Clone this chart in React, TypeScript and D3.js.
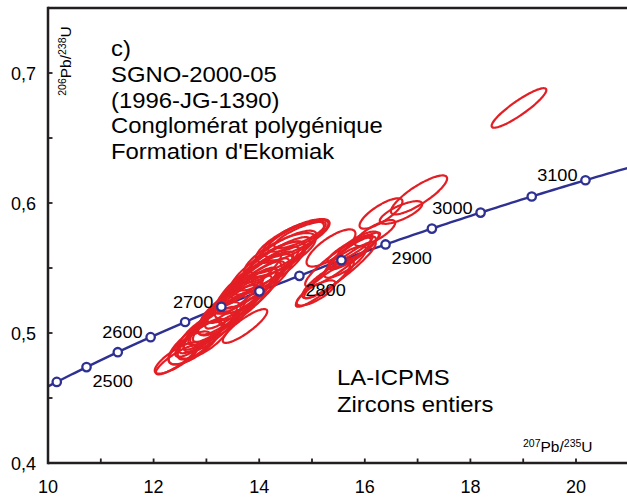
import React from 'react';
import * as d3 from 'd3';

// Concordia diagram, U-Pb zircon ages (LA-ICPMS)
const WIDTH = 627;
const HEIGHT = 500;

// Decay constants (per year)
const LAMBDA_238 = 1.55125e-10;
const LAMBDA_235 = 9.8485e-10;

// Concordia age markers (Ma) and labelled ages
const markerAges = [2450, 2500, 2550, 2600, 2650, 2700, 2750, 2800, 2850, 2900, 2950, 3000, 3050, 3100];
const labelAges = [2500, 2600, 2700, 2800, 2900, 3000, 3100];
const labelSides = ['below', 'above', 'above', 'below', 'below', 'above', 'above'];

// Axis ticks
const xTickLabels = [10, 12, 14, 16, 18, 20];
const yTickLabels = [0.4, 0.5, 0.6, 0.7];

// Analyses: 207Pb/235U, 206Pb/238U, errors and error correlation
const pb207u235 = [18.92, 17.027, 16.307, 16.686, 16.193, 15.36, 15.758, 15.72, 15.871, 15.208, 15.303, 15.076, 15.625, 15.814, 14.697, 14.735, 14.773, 14.583, 12.879, 13.03, 13.163, 13.295, 13.409, 13.542, 13.655, 13.75, 13.864, 13.977, 14.091, 14.205, 14.318, 14.451, 13.485, 13.826, 13.731, 12.424, 12.443, 13.598, 13.352, 13.92, 14.167, 13.106, 14.394, 12.879, 15.492, 15.53, 12.784, 12.973, 12.689, 13.788];
const pb206u238 = [0.6731, 0.6062, 0.5919, 0.5927, 0.5769, 0.5654, 0.5615, 0.5646, 0.5669, 0.5369, 0.5415, 0.5308, 0.5546, 0.5638, 0.5731, 0.5746, 0.5754, 0.57, 0.4962, 0.5023, 0.5077, 0.5115, 0.5162, 0.5215, 0.5269, 0.5315, 0.5362, 0.5408, 0.5469, 0.5515, 0.5562, 0.5623, 0.5254, 0.5408, 0.5054, 0.4792, 0.4808, 0.5238, 0.5138, 0.5377, 0.55, 0.5046, 0.56, 0.4946, 0.5546, 0.5485, 0.4923, 0.4985, 0.4885, 0.5331];
const err207 = [0.518, 0.532, 0.406, 0.402, 0.383, 0.463, 0.451, 0.43, 0.394, 0.514, 0.489, 0.367, 0.398, 0.475, 0.636, 0.575, 0.487, 0.644, 0.468, 0.547, 0.591, 0.638, 0.664, 0.698, 0.678, 0.728, 0.698, 0.669, 0.661, 0.641, 0.65, 0.632, 0.589, 0.588, 0.421, 0.382, 0.421, 0.755, 0.658, 0.714, 0.714, 0.542, 0.679, 0.424, 0.621, 0.678, 0.503, 0.533, 0.403, 0.64];
const err206 = [0.0152, 0.015, 0.0117, 0.0087, 0.01, 0.0143, 0.0126, 0.0108, 0.0111, 0.0167, 0.0146, 0.0097, 0.0121, 0.0135, 0.0146, 0.0121, 0.0101, 0.016, 0.0145, 0.0179, 0.0205, 0.0208, 0.023, 0.0228, 0.0235, 0.0237, 0.0213, 0.0219, 0.0196, 0.0188, 0.0176, 0.0164, 0.0179, 0.0203, 0.013, 0.011, 0.0121, 0.0256, 0.0231, 0.023, 0.0205, 0.0192, 0.0169, 0.015, 0.0189, 0.0219, 0.0165, 0.0182, 0.0127, 0.0228];
const rhoErr = [0.904, 0.84, 0.788, 0.743, 0.79, 0.768, 0.864, 0.871, 0.768, 0.914, 0.862, 0.774, 0.797, 0.912, 0.771, 0.784, 0.812, 0.763, 0.856, 0.876, 0.901, 0.887, 0.903, 0.886, 0.907, 0.895, 0.897, 0.876, 0.881, 0.815, 0.86, 0.808, 0.907, 0.921, 0.863, 0.867, 0.802, 0.85, 0.836, 0.82, 0.79, 0.795, 0.752, 0.769, 0.895, 0.935, 0.74, 0.699, 0.702, 0.741];

const titleLines = ['c)', 'SGNO-2000-05', '(1996-JG-1390)', 'Conglomérat polygénique', "Formation d'Ekomiak"];
const methodLines = ['LA-ICPMS', 'Zircons entiers'];

const AXIS = '#231f20';
const NAVY = '#2e3192';
const RED = '#e31e24';
const FONT = "'Liberation Sans', Arial, Helvetica, sans-serif";

const x = d3.scaleLinear().domain([10, 21]).range([48, 628.8]);
const y = d3.scaleLinear().domain([0.4, 0.75]).range([463, 8]);

const ratio206 = (ma: number) => Math.exp(LAMBDA_238 * ma * 1e6) - 1;
const ratio207 = (ma: number) => Math.exp(LAMBDA_235 * ma * 1e6) - 1;

function ellipsePath(i: number) {
  const cx = pb207u235[i], cy = pb206u238[i];
  const sx = err207[i], sy = err206[i], r = rhoErr[i];
  const k = Math.sqrt(1 - r * r);
  const pts: [number, number][] = d3.range(0, 96).map((j) => {
    const t = (j / 96) * 2 * Math.PI;
    const px = cx + sx * Math.cos(t);
    const py = cy + sy * (r * Math.cos(t) + k * Math.sin(t));
    return [x(px), y(py)];
  });
  return d3.line().curve(d3.curveCardinalClosed)(pts) as string;
}

export default function App() {
  const curveAges = d3.range(2430, 3150, 5);
  const curve = d3.line<number>()
    .x((t) => x(ratio207(t)))
    .y((t) => y(ratio206(t)))(curveAges) as string;

  const xMinor = d3.range(10, 22, 1);
  const yMinor = d3.range(0.4, 0.7501, 0.05);

  return (
    <svg width={WIDTH} height={HEIGHT} style={{ position: 'absolute', left: 0, top: 0, background: '#fff' }}
      fontFamily={FONT}>
      <defs>
        <clipPath id="plot-area">
          <rect x={x(10)} y={y(0.75)} width={WIDTH - x(10)} height={y(0.4) - y(0.75)} />
        </clipPath>
      </defs>

      {/* concordia curve */}
      <g clipPath="url(#plot-area)">
        <path d={curve} fill="none" stroke={NAVY} strokeWidth={2.4} />
      </g>

      {/* error ellipses */}
      <g fill="none" stroke={RED} strokeWidth={2.2}>
        {pb207u235.map((_, i) => (
          <path key={i} d={ellipsePath(i)} />
        ))}
      </g>

      {/* age markers */}
      <g clipPath="url(#plot-area)">
        {markerAges.map((t) => (
          <circle key={t} cx={x(ratio207(t))} cy={y(ratio206(t))} r={4.2}
            fill="#fff" stroke={NAVY} strokeWidth={2.3} />
        ))}
      </g>

      {/* age labels */}
      <g fontSize={16.5} fill="#000">
        {labelAges.map((t, i) => {
          const mx = x(ratio207(t));
          const my = y(ratio206(t));
          const below = labelSides[i] === 'below';
          const tx = below ? mx + 6 : mx - 8;
          const ty = below ? my + 20 : my + 1;
          return (
            <text key={t} transform={`translate(${tx},${ty}) scale(1.1,1)`}
              textAnchor={below ? 'start' : 'end'}>{t}</text>
          );
        })}
      </g>

      {/* frame */}
      <g stroke={AXIS} strokeWidth={2.5} fill="none">
        <line x1={x(10)} x2={WIDTH} y1={y(0.4)} y2={y(0.4)} />
        <line x1={x(10)} x2={WIDTH} y1={y(0.75)} y2={y(0.75)} />
        <line x1={x(10)} x2={x(10)} y1={y(0.4) + 1.2} y2={y(0.75) - 1.2} />
      </g>

      {/* ticks */}
      <g stroke={AXIS} strokeWidth={1.8}>
        {xMinor.map((v) => (
          <line key={'xt' + v} x1={x(v)} x2={x(v)} y1={y(0.4)} y2={y(0.4) - 4.5} />
        ))}
        {yMinor.map((v) => (
          <line key={'yt' + v} x1={x(10)} x2={x(10) + 4.5} y1={y(v)} y2={y(v)} />
        ))}
      </g>

      {/* tick labels */}
      <g fontSize={18} fill="#000">
        {xTickLabels.map((v) => (
          <text key={'xl' + v} x={x(v)} y={493} textAnchor="middle">{v}</text>
        ))}
        {yTickLabels.map((v) => (
          <text key={'yl' + v} x={36} y={y(v) + 6.5} textAnchor="end">{v.toFixed(1).replace('.', ',')}</text>
        ))}
      </g>

      {/* axis titles */}
      <text x={523} y={452} fontSize={15.5} fill="#000">
        <tspan fontSize={10.5} dy={-5}>207</tspan>
        <tspan dy={5}>Pb/</tspan>
        <tspan fontSize={10.5} dy={-5}>235</tspan>
        <tspan dy={5}>U</tspan>
      </text>
      <text transform={`translate(71,61) rotate(-90)`} textAnchor="middle" fontSize={15.5} fill="#000">
        <tspan fontSize={10.5} dy={-5}>206</tspan>
        <tspan dy={5}>Pb/</tspan>
        <tspan fontSize={10.5} dy={-5}>238</tspan>
        <tspan dy={5}>U</tspan>
      </text>

      {/* sample description */}
      <g fontSize={21.5} fill="#000">
        {titleLines.map((s, i) => (
          <text key={s} transform={`translate(111,${56 + i * 25.8}) scale(1.11,1)`}>{s}</text>
        ))}
        {methodLines.map((s, i) => (
          <text key={s} transform={`translate(337,${385 + i * 27}) scale(1.11,1)`}>{s}</text>
        ))}
      </g>
    </svg>
  );
}
